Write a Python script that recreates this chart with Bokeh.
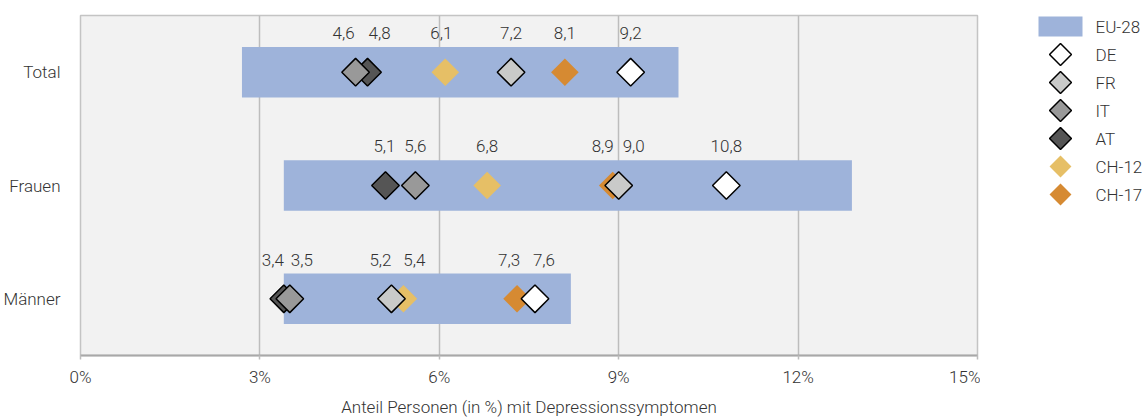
import math
from bokeh.plotting import figure
from bokeh.layouts import row
from bokeh.models import (ColumnDataSource, FactorRange, Range1d, FixedTicker,
                          PrintfTickFormatter)
from bokeh.transform import dodge
from bokeh.core.properties import value
from bokeh.embed import file_html
from bokeh.resources import INLINE

# ---------------- data ----------------
categories = ["Total", "Frauen", "Männer"]
eu28_low = [2.7, 3.4, 3.4]
eu28_high = [10.0, 12.9, 8.2]

series_names = ["DE", "FR", "IT", "AT", "CH-12", "CH-17"]
de = [9.2, 10.8, 7.6]
fr = [7.2, 9.0, 5.2]
it = [4.6, 5.6, 3.5]
at = [4.8, 5.1, 3.4]
ch12 = [6.1, 6.8, 5.4]
ch17 = [8.1, 8.9, 7.3]
series_values = [de, fr, it, at, ch12, ch17]

x_ticks = [0, 3, 6, 9, 12, 15]

# ---------------- styles ----------------
FONT = "Roboto Light"
FS = "17px"
TXT = "#333333"
BAR = "#9eb3da"
fills = {"DE": "#ffffff", "FR": "#c9cac9", "IT": "#999999", "AT": "#555555",
         "CH-12": "#e6bf66", "CH-17": "#d68a32"}
outlined = {"DE": True, "FR": True, "IT": True, "AT": True, "CH-12": False, "CH-17": False}
# horizontal label nudges (px) to keep close labels apart: per series, per category
label_nudge = {"DE": [0, 0, 9], "FR": [0, 15, -11], "IT": [-12, 0, 12],
               "AT": [12, -1, -11], "CH-12": [-4, 0, 11], "CH-17": [0, -10, -8]}
draw_order = ["CH-17", "CH-12", "AT", "IT", "FR", "DE"]

TOP, FH = 15, 340

p = figure(y_range=FactorRange(factors=list(reversed(categories))),
           x_range=Range1d(0, 15),
           frame_width=897, frame_height=FH,
           min_border_left=79, min_border_top=TOP, min_border_right=3, min_border_bottom=40,
           output_backend="svg", toolbar_location=None,
           background_fill_color="#f2f2f2", border_fill_color="white")

p.outline_line_color = "#c4c4c4"
p.outline_line_width = 1.5

# grid
p.ygrid.grid_line_color = None
p.xgrid.grid_line_color = "#bdbdbd"
p.xgrid.grid_line_width = 1.5

# axes
p.xaxis.ticker = FixedTicker(ticks=x_ticks)
p.xaxis.formatter = PrintfTickFormatter(format="%d%%")
p.xaxis.axis_label = "Anteil Personen (in %) mit Depressionssymptomen"
p.xaxis.axis_line_color = "#a8a8a8"
p.xaxis.axis_line_width = 2
p.xaxis.major_tick_line_color = "#bdbdbd"
p.xaxis.major_tick_line_width = 1.5
p.xaxis.major_tick_in = 0
p.xaxis.major_tick_out = 4
p.xaxis.minor_tick_line_color = None
p.xaxis.major_label_standoff = 7
p.xaxis.axis_label_standoff = 7
for ax in [p.xaxis, p.yaxis]:
    ax.major_label_text_font = FONT
    ax.major_label_text_font_size = FS
    ax.major_label_text_color = TXT
    ax.axis_label_text_font = FONT
    ax.axis_label_text_font_size = FS
    ax.axis_label_text_font_style = "normal"
    ax.axis_label_text_color = TXT
p.yaxis.axis_line_color = None
p.yaxis.major_tick_line_color = None
p.yaxis.minor_tick_line_color = None
p.yaxis.major_label_standoff = 14

# EU-28 range bars
bar_src = ColumnDataSource(dict(cat=categories, low=eu28_low, high=eu28_high))
p.hbar(y="cat", left="low", right="high", height=0.445, source=bar_src,
       fill_color=BAR, line_color=None)

# diamonds + value labels
for name in draw_order:
    vals = series_values[series_names.index(name)]
    src = ColumnDataSource(dict(cat=categories, x=vals,
                                lbl=[f"{v:.1f}".replace(".", ",") for v in vals],
                                nudge=label_nudge[name]))
    p.scatter(x="x", y="cat", source=src, marker="square", angle=math.pi / 4, size=19.5,
              fill_color=fills[name],
              line_color="black" if outlined[name] else None, line_width=1.5)
    p.text(x="x", y=dodge("cat", 0.345, range=p.y_range), text="lbl", source=src,
           x_offset="nudge", text_align="center", text_baseline="middle",
           text_font=value(FONT), text_font_size=FS, text_color=TXT)

# ---------------- legend (separate panel, pixel coordinates) ----------------
LW = 162
lg = figure(frame_width=LW, frame_height=FH,
            x_range=Range1d(0, LW), y_range=Range1d(TOP + FH, TOP),
            min_border_left=0, min_border_right=0, min_border_top=TOP, min_border_bottom=0,
            x_axis_type=None, y_axis_type=None,
            output_backend="svg", toolbar_location=None,
            outline_line_color=None, background_fill_color="white",
            border_fill_color="white")
lg.grid.grid_line_color = None

legend_labels = ["EU-28"] + series_names
row_y = [26 + 28 * i for i in range(len(legend_labels))]
glyph_x = 80
lg.rect(x=[glyph_x], y=[row_y[0]], width=44, height=20, fill_color=BAR, line_color=None)
for i, name in enumerate(series_names):
    lg.scatter(x=[glyph_x], y=[row_y[i + 1]], marker="square", angle=math.pi / 4, size=15.5,
               fill_color=fills[name],
               line_color="black" if outlined[name] else None, line_width=1.5)
lg.text(x=[glyph_x + 35] * len(legend_labels), y=row_y, text=legend_labels,
        text_align="left", text_baseline="middle",
        text_font=value(FONT), text_font_size=FS, text_color=TXT)

layout = row(p, lg)
open("out.html", "w").write(file_html(layout, INLINE))
